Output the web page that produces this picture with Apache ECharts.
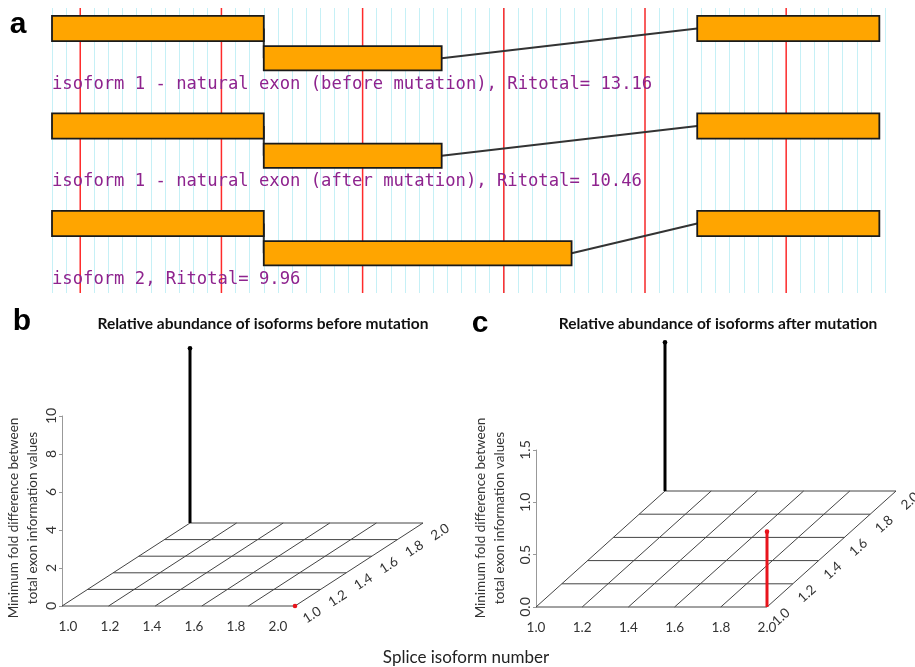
<!DOCTYPE html>
<html><head><meta charset="utf-8">
<script src="https://cdn.jsdelivr.net/npm/echarts@6/dist/echarts.min.js"></script>
<style>html,body{margin:0;padding:0;background:#fff}#main{width:915px;height:667px}</style>
</head><body><div id="main"></div>
<script>
// ---------- Panel a: splice isoform diagram ----------
const trackMax = 59;                       // track length in grid units
const redMarks = [2, 12, 22, 32, 42, 52];   // red reference lines
const isoformLabels = [
  'isoform 1 - natural exon (before mutation), Ritotal= 13.16',
  'isoform 1 - natural exon (after mutation), Ritotal= 10.46',
  'isoform 2, Ritotal= 9.96'
];
const exonStart = [[0, 15, 45.7], [0, 15, 45.7], [0, 15, 45.7]];
const exonEnd   = [[15, 27.6, 58.6], [15, 27.6, 58.6], [15, 36.8, 58.6]];
const exonLevel = [0, 1, 0];               // 0 = upper lane, 1 = lower lane

// ---------- Panels b / c: relative abundance (pseudo 3D) ----------
const isoTicks = [1.0, 1.2, 1.4, 1.6, 1.8, 2.0];
const beforeX = [1, 2], beforeY = [2, 1], beforeZ = [9.2, 0.0];
const afterX  = [1, 2], afterY  = [2, 1], afterZ  = [1.42, 0.72];
const spikeColors = ['#000000', '#e8141c'];
const beforeZMax = 10, beforeZStep = 2;
const afterZMax = 1.5, afterZStep = 0.5;

const titleB = 'Relative abundance of isoforms before mutation';
const titleC = 'Relative abundance of isoforms after mutation';
const zName = 'Minimum fold difference between\ntotal exon information values';
const xName = 'Splice isoform number';

const rowPitchMax = 2.923;
const laneTop = [0.08, 0.39], laneBot = [0.34, 0.64], labelPos = 0.78;

const chart = echarts.init(document.getElementById('main'), null, {renderer: 'canvas'});

// data for panel a
const exonData = [], intronData = [];
exonStart.forEach((row, r) => {
  row.forEach((s, i) => {
    exonData.push([s, r, exonEnd[r][i], exonLevel[i]]);
    if (i < row.length - 1) intronData.push([exonEnd[r][i], r, row[i + 1], exonLevel[i], exonLevel[i + 1]]);
  });
});

const UI = 'Lato, "Open Sans", sans-serif';

function proj(api, x, d, z, vec) {
  const c = api.coord([x, z]);
  return [c[0] + (d - 1) * vec[0], c[1] + (d - 1) * vec[1]];
}
const vecB = [128, -83], vecC = [129, -116];

function floorSeries(xi, yi, vec) {
  const data = [];
  isoTicks.forEach(t => { data.push([0, t]); data.push([1, t]); });
  return {
    type: 'custom', xAxisIndex: xi, yAxisIndex: yi, clip: false, silent: true, z: 2,
    data: data,
    renderItem: (params, api) => {
      const kind = api.value(0), t = api.value(1);
      let a, b;
      if (kind === 0) { a = proj(api, 1, t, 0, vec); b = proj(api, 2, t, 0, vec); }
      else { a = proj(api, t, 1, 0, vec); b = proj(api, t, 2, 0, vec); }
      return {type: 'line', shape: {x1: a[0], y1: a[1], x2: b[0], y2: b[1]},
        style: {stroke: '#444', lineWidth: 1}};
    }
  };
}
function depthLabelSeries(xi, yi, vec, off) {
  const ang = Math.atan2(-vec[1], vec[0]);
  return {
    type: 'custom', xAxisIndex: xi, yAxisIndex: yi, clip: false, silent: true, z: 3,
    data: isoTicks.map(t => [t]),
    renderItem: (params, api) => {
      const t = api.value(0);
      const p = proj(api, 2, t, 0, vec);
      return {type: 'text', x: p[0] + off[0], y: p[1] + off[1], rotation: ang,
        style: {text: t.toFixed(1), fill: '#333', font: '13.5px ' + UI, align: 'center', verticalAlign: 'middle'}};
    }
  };
}
function spikeSeries(xi, yi, vec, xs, ys, zs) {
  return {
    type: 'custom', xAxisIndex: xi, yAxisIndex: yi, clip: false, silent: true, z: 5,
    data: xs.map((x, i) => [x, ys[i], zs[i], i]),
    renderItem: (params, api) => {
      const x = api.value(0), d = api.value(1), z = api.value(2), ci = api.value(3);
      const a = proj(api, x, d, 0, vec), b = proj(api, x, d, z, vec);
      const col = spikeColors[ci];
      return {type: 'group', children: [
        {type: 'line', shape: {x1: a[0], y1: a[1], x2: b[0], y2: b[1]}, style: {stroke: col, lineWidth: 3}},
        {type: 'circle', shape: {cx: b[0], cy: b[1], r: 2.3}, style: {fill: col}}
      ]};
    }
  };
}

const zAxisCommon = {
  type: 'value',
  axisLine: {show: true, lineStyle: {color: '#999', width: 1}},
  axisTick: {show: true, length: 3, lineStyle: {color: '#999'}},
  splitLine: {show: false},
  axisLabel: {rotate: 90, color: '#333', fontFamily: UI, fontSize: 14, margin: 4}
};

const option = {
  animation: false,
  backgroundColor: '#fff',
  grid: [
    {left: 52, top: 8, width: 833, height: 285},
    {left: 62, top: 416, width: 233, height: 190},
    {left: 536, top: 450, width: 231, height: 157}
  ],
  xAxis: [
    {gridIndex: 0, type: 'value', min: 0, max: trackMax, interval: 1,
      axisLine: {show: false}, axisTick: {show: false}, axisLabel: {show: false},
      splitLine: {show: true, lineStyle: {color: '#c6f0f6', width: 1}}},
    {gridIndex: 1, type: 'value', min: 1, max: 2, show: false},
    {gridIndex: 1, type: 'value', min: 0.9714, max: 2.081, position: 'bottom',
      axisLine: {show: false}, axisTick: {show: false}, splitLine: {show: false},
      axisLabel: {customValues: isoTicks, formatter: v => v.toFixed(1), color: '#333', fontFamily: UI, fontSize: 13.5, margin: 14}},
    {gridIndex: 2, type: 'value', min: 1, max: 2, interval: 0.2,
      axisLine: {show: false}, axisTick: {show: false}, splitLine: {show: false},
      axisLabel: {formatter: v => v.toFixed(1), color: '#333', fontFamily: UI, fontSize: 13.5, margin: 14}}
  ],
  yAxis: [
    {gridIndex: 0, type: 'value', inverse: true, min: 0, max: rowPitchMax, show: false},
    Object.assign({}, zAxisCommon, {gridIndex: 1, min: 0, max: beforeZMax, interval: beforeZStep,
      axisLabel: Object.assign({}, zAxisCommon.axisLabel, {formatter: v => String(v)})}),
    Object.assign({}, zAxisCommon, {gridIndex: 2, min: 0, max: afterZMax, interval: afterZStep,
      axisLabel: Object.assign({}, zAxisCommon.axisLabel, {formatter: v => v.toFixed(1)})})
  ],
  graphic: [
    {type: 'text', x: 18, y: 25, style: {text: 'a', font: 'bold 30px "Liberation Sans", Arial', fill: '#000', align: 'center', verticalAlign: 'middle'}},
    {type: 'text', x: 22, y: 322, style: {text: 'b', font: 'bold 30px "Liberation Sans", Arial', fill: '#000', align: 'center', verticalAlign: 'middle'}},
    {type: 'text', x: 480, y: 324, style: {text: 'c', font: 'bold 30px "Liberation Sans", Arial', fill: '#000', align: 'center', verticalAlign: 'middle'}},
    {type: 'text', x: 263, y: 324, style: {text: titleB, font: 'bold 15.5px ' + UI, fill: '#111', align: 'center', verticalAlign: 'middle'}},
    {type: 'text', x: 718, y: 324, style: {text: titleC, font: 'bold 15.5px ' + UI, fill: '#111', align: 'center', verticalAlign: 'middle'}},
    {type: 'text', x: 23, y: 518, rotation: Math.PI / 2, style: {text: zName, font: '13.5px ' + UI, lineHeight: 19, fill: '#333', align: 'center', verticalAlign: 'middle'}},
    {type: 'text', x: 490, y: 518, rotation: Math.PI / 2, style: {text: zName, font: '13.5px ' + UI, lineHeight: 19, fill: '#333', align: 'center', verticalAlign: 'middle'}},
    {type: 'text', x: 466, y: 658, style: {text: xName, font: '17px ' + UI, fill: '#222', align: 'center', verticalAlign: 'middle'}}
  ],
  series: [
    // red reference lines
    {type: 'custom', xAxisIndex: 0, yAxisIndex: 0, silent: true, clip: false, z: 1,
      data: redMarks.map(v => [v]),
      renderItem: (params, api) => {
        const a = api.coord([api.value(0), 0]), b = api.coord([api.value(0), rowPitchMax]);
        return {type: 'line', shape: {x1: a[0], y1: a[1], x2: b[0], y2: b[1]}, style: {stroke: '#ff2a2a', lineWidth: 1.5}};
      }},
    // introns
    {type: 'custom', xAxisIndex: 0, yAxisIndex: 0, silent: true, clip: false, z: 2,
      data: intronData,
      renderItem: (params, api) => {
        const r = api.value(1), l1 = api.value(3), l2 = api.value(4);
        const a = api.coord([api.value(0), r + (laneTop[l1] + laneBot[l1]) / 2]);
        const b = api.coord([api.value(2), r + (laneTop[l2] + laneBot[l2]) / 2]);
        return {type: 'line', shape: {x1: a[0], y1: a[1], x2: b[0], y2: b[1]}, style: {stroke: '#333', lineWidth: 2}};
      }},
    // exons
    {type: 'custom', xAxisIndex: 0, yAxisIndex: 0, silent: true, clip: false, z: 3,
      data: exonData,
      renderItem: (params, api) => {
        const r = api.value(1), l = api.value(3);
        const a = api.coord([api.value(0), r + laneTop[l]]);
        const b = api.coord([api.value(2), r + laneBot[l]]);
        return {type: 'rect', shape: {x: a[0], y: a[1], width: b[0] - a[0], height: b[1] - a[1]},
          style: {fill: '#ffa500', stroke: '#1a1a1a', lineWidth: 1.8}};
      }},
    // labels
    {type: 'custom', xAxisIndex: 0, yAxisIndex: 0, silent: true, clip: false, z: 4,
      data: isoformLabels.map((t, i) => [0, i]),
      renderItem: (params, api) => {
        const p = api.coord([0, api.value(1) + labelPos]);
        return {type: 'text', x: p[0], y: p[1],
          style: {text: isoformLabels[params.dataIndex], font: '17.2px "DejaVu Sans Mono", monospace', fill: '#8e238e', align: 'left', verticalAlign: 'middle'}};
      }},
    floorSeries(1, 1, vecB),
    depthLabelSeries(1, 1, vecB, [17, 9]),
    spikeSeries(1, 1, vecB, beforeX, beforeY, beforeZ),
    floorSeries(3, 2, vecC),
    depthLabelSeries(3, 2, vecC, [14, 10]),
    spikeSeries(3, 2, vecC, afterX, afterY, afterZ)
  ]
};
chart.setOption(option);
</script>
</body></html>
